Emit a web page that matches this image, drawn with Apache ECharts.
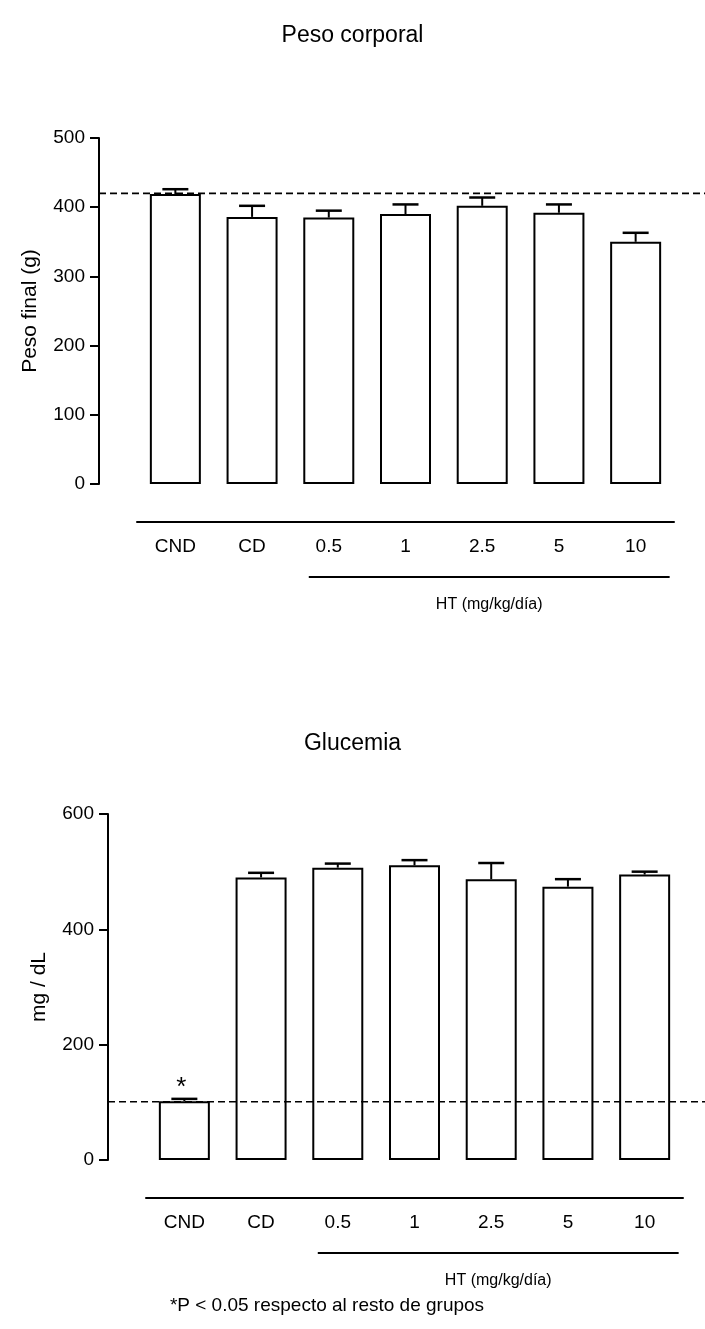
<!DOCTYPE html>
<html>
<head>
<meta charset="utf-8">
<script src="https://cdn.jsdelivr.net/npm/echarts@6/dist/echarts.min.js"></script>
<style>
  html, body { margin: 0; padding: 0; background: #fff; }
  #main { width: 705px; height: 1329px; }
</style>
</head>
<body>
<div id="main"></div>
<script>
// datos
var categorias = ['CND', 'CD', '0.5', '1', '2.5', '5', '10'];

var pesoMedia = [419, 386, 385, 390, 402, 392, 350];
var pesoError = [7, 16, 10, 14, 12, 12, 13];
var pesoReferencia = 420;
var pesoTicks = [0, 100, 200, 300, 400, 500];

var glucMedia = [102, 490, 507, 511, 487, 474, 495];
var glucError = [4, 8, 7, 9, 28, 13, 5];
var glucReferencia = 101;
var glucTicks = [0, 200, 400, 600];
var glucSignif = ['*', '', '', '', '', '', ''];

var grupoHT = ['0.5', '10'];
var textoHT = 'HT (mg/kg/día)';
var nota = '*P < 0.05 respecto al resto de grupos';

var fuente = 'Liberation Sans, Arial, sans-serif';

var dom = document.getElementById('main');
var myChart = echarts.init(dom);

// barras de error
var errorBar = function (medias, errores) {
    return function (params, api) {
        var i = api.value(0);
        var base = api.coord([i, medias[i]]);
        var top = api.coord([i, medias[i] + errores[i]]);
        var half = 13;
        return {
            type: 'group',
            children: [
                { type: 'line', shape: { x1: base[0], y1: base[1], x2: top[0], y2: top[1] }, style: { stroke: '#000', lineWidth: 2 } },
                { type: 'line', shape: { x1: top[0] - half, y1: top[1], x2: top[0] + half, y2: top[1] }, style: { stroke: '#000', lineWidth: 2.5 } }
            ]
        };
    };
};

var yAxisBase = function (ticks, nombre, grid) {
    return {
        type: 'value',
        gridIndex: grid,
        min: ticks[0],
        max: ticks[ticks.length - 1],
        interval: ticks[1] - ticks[0],
        offset: 38,
        name: nombre,
        nameLocation: 'middle',
        nameRotate: 90,
        nameGap: 58,
        nameTextStyle: { color: '#000', fontSize: 21, fontFamily: fuente },
        axisLine: { show: true, lineStyle: { color: '#000', width: 2 } },
        axisTick: { show: true, length: 9, lineStyle: { color: '#000', width: 2 } },
        axisLabel: { color: '#000', fontSize: 19, fontFamily: fuente, margin: 14 },
        splitLine: { show: false }
    };
};

var xAxisLabels = function (grid) {
    return {
        type: 'category',
        gridIndex: grid,
        data: categorias,
        axisLine: { show: false },
        axisTick: { show: false },
        axisLabel: { color: '#000', fontSize: 19, fontFamily: fuente, margin: 53 }
    };
};

var xAxisLinea = function (grid) {
    return {
        type: 'category',
        gridIndex: grid,
        data: categorias,
        position: 'bottom',
        offset: 38,
        axisLine: { show: true, lineStyle: { color: '#000', width: 2 } },
        axisTick: { show: false },
        axisLabel: { show: false }
    };
};

var option = {
    backgroundColor: '#fff',
    animation: false,
    title: [
        { text: 'Peso corporal', left: 'center', top: 19, textStyle: { color: '#000', fontSize: 23, fontWeight: 'normal', fontFamily: fuente } },
        { text: 'Glucemia', left: 'center', top: 727, textStyle: { color: '#000', fontSize: 23, fontWeight: 'normal', fontFamily: fuente } }
    ],
    grid: [
        { left: 137, width: 537, top: 138, height: 346 },
        { left: 146, width: 537, top: 814, height: 346 }
    ],
    xAxis: [xAxisLabels(0), xAxisLinea(0), xAxisLabels(1), xAxisLinea(1)],
    yAxis: [yAxisBase(pesoTicks, 'Peso final (g)', 0), yAxisBase(glucTicks, 'mg / dL', 1)],
    series: [
        {
            name: 'Peso',
            type: 'bar',
            xAxisIndex: 0,
            yAxisIndex: 0,
            barWidth: 51,
            data: pesoMedia,
            itemStyle: { color: '#fff', borderColor: '#000', borderWidth: 2 }
        },
        {
            type: 'custom',
            xAxisIndex: 0,
            yAxisIndex: 0,
            data: categorias.map(function (c, i) { return [i]; }),
            renderItem: errorBar(pesoMedia, pesoError),
            z: 5
        },
        {
            name: 'Glucemia',
            type: 'bar',
            xAxisIndex: 2,
            yAxisIndex: 1,
            barWidth: 51,
            data: glucMedia.map(function (v, i) {
                return {
                    value: v,
                    label: {
                        show: glucSignif[i] !== '',
                        position: 'top',
                        distance: 0,
                        offset: [-3, 0],
                        formatter: glucSignif[i],
                        color: '#000',
                        fontSize: 26,
                        fontFamily: fuente
                    }
                };
            }),
            itemStyle: { color: '#fff', borderColor: '#000', borderWidth: 2 }
        },
        {
            type: 'custom',
            xAxisIndex: 2,
            yAxisIndex: 1,
            data: categorias.map(function (c, i) { return [i]; }),
            renderItem: errorBar(glucMedia, glucError),
            z: 5
        }
    ]
};

myChart.setOption(option);

// líneas de referencia, grupo HT y nota
var extras = function () {
    var g = [];
    var refs = [
        { grid: 0, x: 0, y: 0, val: pesoReferencia },
        { grid: 1, x: 2, y: 1, val: glucReferencia }
    ];
    refs.forEach(function (r) {
        var rect = myChart.getModel().getComponent('grid', r.grid).coordinateSystem.getRect();
        var yy = myChart.convertToPixel({ yAxisIndex: r.y }, r.val);
        g.push({
            type: 'line',
            shape: { x1: rect.x - 38, y1: yy, x2: 705, y2: yy },
            style: { stroke: '#000', lineWidth: 1.6, lineDash: [7, 4] },
            z: 10
        });
        var x1 = myChart.convertToPixel({ xAxisIndex: r.x }, grupoHT[0]) - 20;
        var x2 = myChart.convertToPixel({ xAxisIndex: r.x }, grupoHT[1]) + 34;
        var ly = rect.y + rect.height + 93;
        g.push({
            type: 'line',
            shape: { x1: x1, y1: ly, x2: x2, y2: ly },
            style: { stroke: '#000', lineWidth: 2 }
        });
        g.push({
            type: 'text',
            x: (x1 + x2) / 2,
            y: ly + 28,
            style: { text: textoHT, fill: '#000', font: '16px ' + fuente, textAlign: 'center', textVerticalAlign: 'middle' }
        });
    });
    g.push({
        type: 'text',
        x: 327,
        y: 1306,
        style: { text: nota, fill: '#000', font: '19px ' + fuente, textAlign: 'center', textVerticalAlign: 'middle' }
    });
    myChart.setOption({ graphic: g });
};
extras();

var resizeObserver = new ResizeObserver(function () {
    myChart.resize();
});
resizeObserver.observe(dom);
</script>
</body>
</html>
